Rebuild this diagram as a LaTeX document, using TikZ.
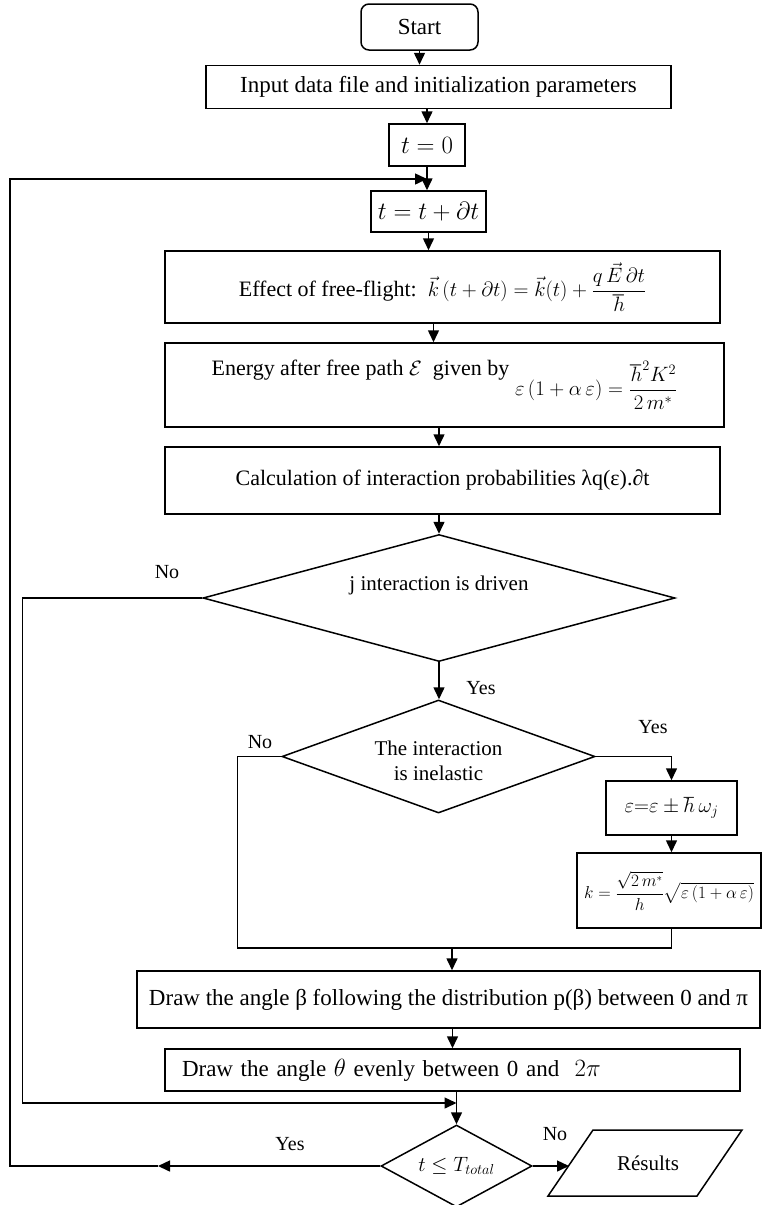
\documentclass[tikz,border=0pt]{standalone}
\usepackage{fontspec}
\usepackage{amsmath}
\setmainfont{Liberation Serif}
\usetikzlibrary{shapes.geometric,arrows.meta,calc}
\begin{document}
\begin{tikzpicture}[x=1pt,y=-1pt,
  line width=1.5pt,
  box/.style={draw, rectangle, inner sep=0pt, font=\fontsize{23}{27}\selectfont},
  dec/.style={draw, diamond, inner sep=0pt, font=\fontsize{21}{25}\selectfont},
  arr/.style={-{Triangle[length=12pt,width=11pt]}},
  lbl/.style={font=\fontsize{20}{24}\selectfont}]
\useasboundingbox (0,0) rectangle (762,1205);

% boxes
\node[box, rounded corners=8pt, minimum width=117pt, minimum height=46pt] (start) at (419.5,27) {Start};
\node[box, minimum width=465pt, minimum height=43pt] (input) at (438.5,87) {Input data file and initialization parameters};
\node[box, minimum width=76pt, minimum height=42pt] (t0) at (427,145) {$t=0$};
\node[box, minimum width=115pt, minimum height=41pt] (tdt) at (428.5,211.5) {$t=t+\partial t$};
\node[box, minimum width=555pt, minimum height=72pt, font=\fontsize{22}{26}\selectfont] (ff) at (442.5,287)
  {Effect of free-flight:\ \ $\vec k\left(t+\partial t\right)=\vec k(t)+\dfrac{q\,\vec E\,\partial t}{\hbar}$};
\node[box, minimum width=559pt, minimum height=84pt, font=\fontsize{22}{26}\selectfont] (en) at (444.5,385)
  {\raisebox{20pt}{Energy after free path $\mathcal{E}$\ \ given by}$\;\varepsilon\left(1+\alpha\,\varepsilon\right)=\dfrac{\hbar^{2}K^{2}}{2\,m^{*}}$};
\node[box, minimum width=555pt, minimum height=67pt, font=\fontsize{22}{26}\selectfont] (calc) at (442.5,480.5)
  {\raisebox{6pt}{Calculation of interaction probabilities λq(ε).∂t}};
\node[dec, aspect=3.75, minimum width=472pt, minimum height=127pt,
  label={[font=\fontsize{21}{25}\selectfont, yshift=13pt]center:j interaction is driven}] (d1) at (439,598) {};
\node[dec, aspect=2.77, minimum width=313pt, minimum height=113pt,
  label={[font=\fontsize{21}{25}\selectfont, yshift=-4pt, align=center]center:The interaction\\is inelastic}] (d2) at (438.5,756.5) {};
\node[box, minimum width=131pt, minimum height=54pt, font=\fontsize{20}{24}\selectfont] (eps) at (671.5,808) {$\varepsilon{=}\varepsilon\pm\hbar\,\omega_j$};
\node[box, minimum width=184pt, minimum height=75pt, font=\fontsize{16}{19}\selectfont] (kb) at (669,890.5)
  {$k=\dfrac{\sqrt{2\,m^{*}}}{h}\sqrt{\varepsilon\left(1+\alpha\,\varepsilon\right)}$};
\node[box, minimum width=623pt, minimum height=57pt] (beta) at (448.5,999.5)
  {Draw the angle β following the distribution p(β) between 0 and π};
\node[box, minimum height=42pt, inner xsep=17pt, text width=541pt, align=left] (theta) at (452.5,1070)
  {Draw the angle $\theta$ evenly between 0 and \ $2\pi$};
\node[dec, aspect=1.84, minimum width=151pt, minimum height=82pt] (d3) at (456.5,1166) {$t\leq T_{total}$};
\node[font=\fontsize{21}{25}\selectfont] (res) at (648,1163) {Résults};
\draw (res.center) ++(-100,33) -- ++(45,-66) -- ++(149,0) -- ++(-45,66) -- cycle;

% labels
\node[lbl] (lno1) at (167,572) {No};
\node[lbl] (lyes1) at (481,688) {Yes};
\node[lbl] (lyes2) at (653,727) {Yes};
\node[lbl] (lno2) at (260,742) {No};
\node[lbl] (lyes3) at (290,1144) {Yes};
\node[lbl] (lno3) at (555,1134) {No};

% junction coordinates
\coordinate (lj) at (427,179);
\coordinate (jn) at (456.5,1103);
\coordinate (m) at (452,948);
\coordinate (ya) at (158,1166);
\coordinate (resin) at (569,1166);

% connectors
\draw[arr] (start.south) -- (start.south |- input.north);
\draw[arr] (t0.north |- input.south) -- (t0.north);
\draw[arr] (t0.south) -- (t0.south |- tdt.north);
\draw[arr] (tdt.south) -- (tdt.south |- ff.north);
\draw[arr] ([xshift=-9pt]ff.south) -- ([xshift=-9pt]ff.south |- en.north);
\draw[arr] (d1.north |- en.south) -- (d1.north |- calc.north);
\draw[arr] (d1.north |- calc.south) -- (d1.north);
\draw[arr] (d1.south) -- (d1.south |- d2.north);
\draw[arr] (d1.west) -- ++(-180,0) |- (jn);
\draw[arr] (d2.east) -| (eps.north);
\draw[arr] (eps.south) -- (eps.south |- kb.north);
\draw (d2.west) -- ++(-44,0) |- (m);
\draw (eps.south |- kb.south) |- (m);
\draw[arr] (m) -- (m |- beta.north);
\draw[arr] (theta.north |- beta.south) -- (theta.north);
\draw[arr] (d3.north |- theta.south) -- (d3.north);
\draw[arr] (d3.west) -- (ya);
\draw[line width=2.8pt] ([xshift=4pt]ya) -- ([xshift=40pt]ya);
\draw[arr] (ya) -- ++(-148,0) |- (lj);
\draw[arr] (d3.east) -- (resin);
\end{tikzpicture}
\end{document}
